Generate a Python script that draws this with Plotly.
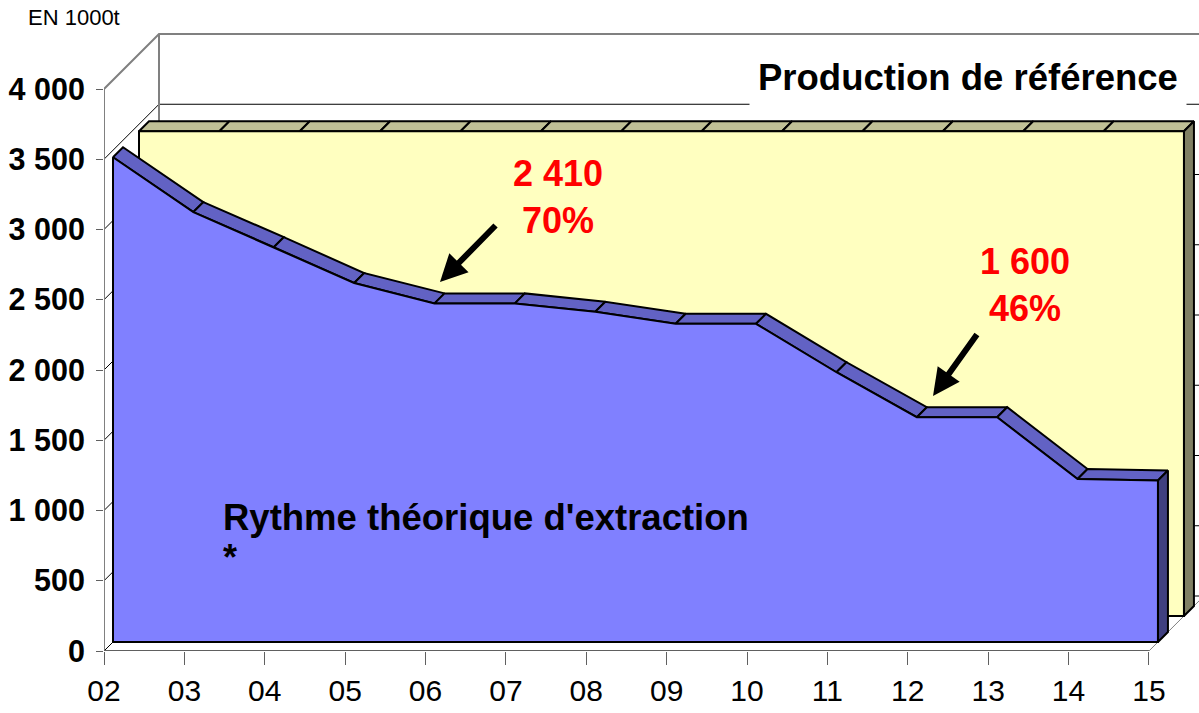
import plotly.graph_objects as go

# ---------------- data ----------------
years = ['02', '03', '04', '05', '06', '07', '08', '09', '10', '11', '12', '13', '14', '15']
rythme = [3450, 3060, 2810, 2555, 2410, 2410, 2350, 2265, 2265, 1920, 1600, 1600, 1160, 1150]
reference = [3450, 3450, 3450, 3450, 3450, 3450, 3450, 3450, 3450, 3450, 3450, 3450, 3450, 3450]
y_ticks = [0, 500, 1000, 1500, 2000, 2500, 3000, 3500, 4000]
y_tick_labels = ['0', '500', '1 000', '1 500', '2 000', '2 500', '3 000', '3 500', '4 000']
callout_values = ['2 410', '1 600']
callout_pcts = ['70%', '46%']

# ---------------- layout geometry ----------------
W, H = 1199, 713
ML, MR, MT, MB = 104, 0, 0, 62
PX_X = 80.38          # pixels per category
PX_Y = 562 / 4000.0   # pixels per unit
PW, PH = W - ML - MR, H - MT - MB
XMAX = PW / PX_X
YMAX = PH / PX_Y
WALL = 55             # depth of the 3D box in px
N = len(years)

FONT = "Arial, Liberation Sans, sans-serif"


def pt(i, v, d):
    """category index, value, depth(px) -> data coords"""
    return (i + d / PX_X, v + d / PX_Y)


def poly_trace(points, fill, line_color='black', width=2, closed=True):
    xs = [p[0] for p in points]
    ys = [p[1] for p in points]
    if closed:
        xs.append(xs[0]); ys.append(ys[0])
    return go.Scatter(x=xs, y=ys, mode='lines',
                      fill='toself' if fill else None,
                      fillcolor=fill,
                      line=dict(color=line_color, width=width),
                      hoverinfo='skip', showlegend=False)


def line_trace(points, color, width):
    return poly_trace(points, None, color, width, closed=False)


fig = go.Figure()

# ---- walls / gridlines ----
for v in y_ticks[:-1]:
    fig.add_trace(line_trace([pt(0, v, 0), pt(0, v, WALL), pt(XMAX + 1, v, WALL)], 'black', 1))
# floor
fig.add_trace(line_trace([pt(N - 1, 0, 0), pt(N - 1, 0, WALL + 60)], '#808080', 1))
# wall frame
fig.add_trace(line_trace([pt(0, 0, WALL), pt(0, 4000, WALL)], '#808080', 2))
fig.add_trace(line_trace([pt(0, 4000, 0), pt(0, 4000, WALL), pt(XMAX + 1, 4000, WALL)], '#808080', 2))


def area_series(vals, d0, d1, front, top, side):
    n = len(vals)
    for i in range(n - 1):
        fig.add_trace(poly_trace([pt(i, vals[i], d0), pt(i + 1, vals[i + 1], d0),
                                  pt(i + 1, vals[i + 1], d1), pt(i, vals[i], d1)], top))
    fig.add_trace(poly_trace([pt(n - 1, vals[-1], d0), pt(n - 1, vals[-1], d1),
                              pt(n - 1, 0, d1), pt(n - 1, 0, d0)], side))
    fig.add_trace(poly_trace([pt(0, 0, d0)] + [pt(i, v, d0) for i, v in enumerate(vals)]
                             + [pt(n - 1, 0, d0)], front))


area_series(reference, 35, 45, '#FFFFC0', '#C0C096', '#808064')
area_series(rythme, 9, 19, '#8080FF', '#6262C4', '#404080')

# front axes
fig.add_trace(line_trace([pt(0, 0, 0), pt(0, 4000, 0)], '#808080', 2))
fig.add_trace(line_trace([pt(0, 0, 0), pt(N - 1, 0, 0)], '#606060', 2))


def paper(px, py):
    return (px - ML) / PW, (H - MB - py) / PH


annotations = []


def txt(text, px, py, size, bold=True, color='black', xanchor='center', bg=None, pad=1):
    x, y = paper(px, py)
    annotations.append(dict(text=text, x=x, y=y, xref='paper', yref='paper',
                            xanchor=xanchor, yanchor='middle', showarrow=False,
                            font=dict(family=FONT, size=size, color=color,
                                      weight='bold' if bold else 'normal'),
                            bgcolor=bg, borderpad=pad, align='center'))


def arrow(tail, tip):
    x, y = paper(*tip)
    annotations.append(dict(text='', x=x, y=y, xref='paper', yref='paper',
                            ax=tail[0] - tip[0], ay=tail[1] - tip[1],
                            showarrow=True, arrowhead=2, arrowsize=0.9,
                            arrowwidth=6, arrowcolor='black', standoff=0))


txt('EN 1000t', 74, 18, 22, bold=False)
txt('Production de référence', 968, 77, 36.5, bg='white', pad=8)
txt("Rythme théorique d'extraction", 221, 517, 36.5, xanchor='left')
txt('*', 221, 557, 36, xanchor='left')
txt(callout_values[0] + '<br>' + callout_pcts[0], 558, 197, 36, color='#FF0000')
txt(callout_values[1] + '<br>' + callout_pcts[1], 1025, 285, 36, color='#FF0000')
arrow((497, 224), (440, 282))
arrow((978, 333), (933, 396))

fig.update_layout(
    width=W, height=H,
    margin=dict(l=ML, r=MR, t=MT, b=MB, pad=0, autoexpand=False),
    paper_bgcolor='white', plot_bgcolor='white',
    showlegend=False,
    annotations=annotations,
    xaxis=dict(range=[0, XMAX], tickvals=list(range(N)), ticktext=years,
               ticks='outside', ticklen=13, tickcolor='#606060', tickwidth=1,
               showgrid=False, zeroline=False, showline=False, fixedrange=True,
               automargin=False,
               tickfont=dict(family=FONT, size=30, color='black')),
    yaxis=dict(range=[0, YMAX], tickvals=y_ticks, ticktext=y_tick_labels,
               ticks='outside', ticklen=7, tickcolor='#606060', tickwidth=1,
               showgrid=False, zeroline=False, showline=False, fixedrange=True,
               automargin=False, ticklabelstandoff=5,
               tickfont=dict(family=FONT, size=30.5, color='black', weight='bold')),
)

fig.write_html('out.html', config={'displayModeBar': False, 'staticPlot': True},
               post_script="document.body.style.margin='0';document.body.style.overflow='hidden';")
